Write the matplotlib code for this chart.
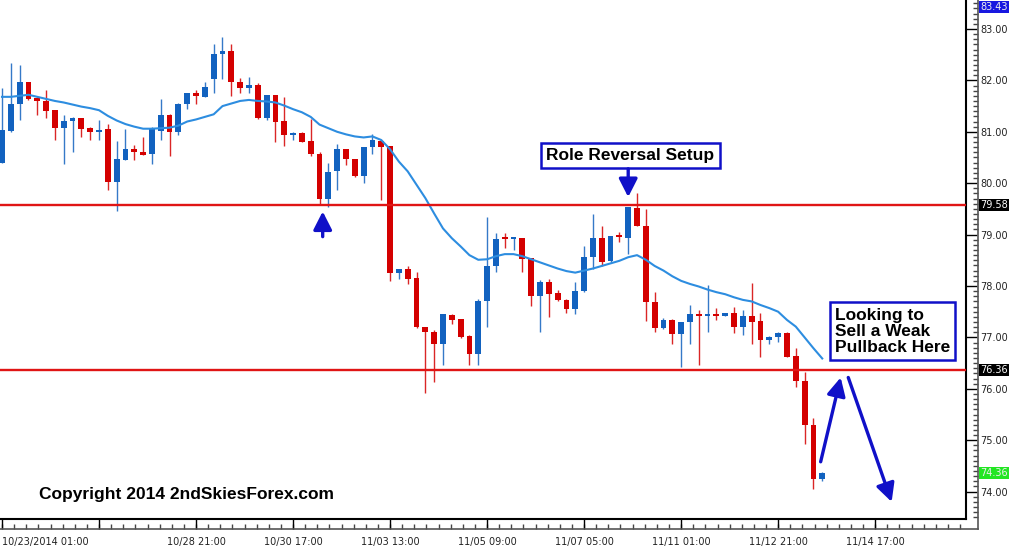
import numpy as np
import matplotlib
matplotlib.use('Agg')
import matplotlib.pyplot as plt
from matplotlib.lines import Line2D
from matplotlib.ticker import MultipleLocator, FormatStrFormatter

# 4H candles (bar index 0 = 10/23/2014 01:00)
opens = [80.39, 81.02, 81.54, 81.96, 81.65, 81.60, 81.42, 81.07, 81.21, 81.26,
         81.07, 81.00, 81.05, 80.03, 80.46, 80.67, 80.61, 80.56, 81.02, 81.33,
         81.00, 81.54, 81.75, 81.68, 82.03, 82.51, 82.58, 81.96, 81.86, 81.91,
         81.26, 81.72, 81.21, 80.94, 80.98, 80.82, 80.57, 79.69, 80.23, 80.66,
         80.47, 80.14, 80.71, 80.83, 80.72, 78.25, 78.33, 78.15, 77.21, 77.10,
         76.87, 77.44, 77.35, 77.03, 76.68, 77.70, 78.38, 78.94, 78.92, 78.93,
         78.54, 77.81, 78.07, 77.86, 77.73, 77.55, 77.91, 78.56, 78.93, 78.49,
         79.00, 78.93, 79.52, 79.17, 77.68, 77.18, 77.34, 77.06, 77.29, 77.45,
         77.42, 77.45, 77.42, 77.47, 77.21, 77.42, 77.31, 76.95, 77.00, 77.09,
         76.64, 76.16, 75.30, 74.24]
highs = [81.85, 82.34, 82.30, 81.97, 81.68, 81.81, 81.43, 81.33, 81.29, 81.27,
         81.10, 81.22, 81.15, 80.82, 81.05, 80.74, 80.89, 81.10, 81.64, 81.34,
         81.56, 81.76, 81.81, 81.97, 82.71, 82.85, 82.71, 82.04, 82.06, 81.94,
         81.72, 81.72, 81.68, 80.99, 80.99, 81.24, 80.61, 80.39, 80.76, 80.67,
         80.47, 80.71, 80.96, 80.84, 80.73, 78.34, 78.38, 78.28, 77.21, 77.14,
         77.45, 77.45, 77.36, 77.04, 77.74, 79.34, 79.04, 79.03, 78.94, 78.93,
         78.55, 78.12, 78.13, 77.92, 77.74, 78.07, 78.78, 79.40, 79.17, 78.98,
         79.06, 79.54, 79.80, 79.49, 77.88, 77.37, 77.35, 77.30, 77.63, 77.53,
         78.01, 77.57, 77.48, 77.60, 77.53, 78.05, 77.47, 77.02, 77.10, 77.10,
         76.79, 76.33, 75.44, 74.39]
lows = [80.39, 81.00, 81.22, 81.62, 81.33, 81.26, 80.85, 80.37, 80.61, 80.89,
        80.85, 80.84, 79.86, 79.46, 80.46, 80.46, 80.54, 80.37, 80.84, 80.53,
        80.94, 81.44, 81.55, 81.68, 81.76, 82.03, 81.70, 81.76, 81.75, 81.24,
        81.22, 80.81, 80.72, 80.85, 80.80, 80.53, 79.58, 79.53, 79.86, 80.36,
        80.13, 80.00, 80.57, 79.67, 78.09, 78.13, 78.04, 77.18, 75.91, 76.14,
        76.46, 77.26, 76.98, 76.46, 76.46, 77.21, 78.28, 78.73, 78.70, 78.28,
        77.61, 77.11, 77.40, 77.70, 77.48, 77.46, 77.89, 78.34, 78.38, 78.47,
        78.86, 78.62, 79.16, 77.31, 77.11, 77.16, 76.87, 76.43, 76.87, 76.46,
        77.11, 77.33, 77.41, 77.09, 77.05, 76.87, 76.62, 76.87, 76.92, 76.61,
        76.04, 74.93, 74.06, 74.21]
closes = [81.03, 81.55, 81.96, 81.64, 81.60, 81.41, 81.07, 81.21, 81.26, 81.05,
          81.00, 81.03, 80.03, 80.47, 80.67, 80.61, 80.55, 81.05, 81.33, 81.00,
          81.55, 81.75, 81.70, 81.88, 82.51, 82.58, 81.96, 81.85, 81.91, 81.26,
          81.72, 81.20, 80.94, 80.98, 80.81, 80.56, 79.69, 80.22, 80.66, 80.47,
          80.14, 80.70, 80.84, 80.71, 78.25, 78.33, 78.13, 77.21, 77.10, 76.87,
          77.45, 77.34, 77.00, 76.68, 77.70, 78.38, 78.91, 78.92, 78.94, 78.52,
          77.81, 78.07, 77.84, 77.72, 77.55, 77.91, 78.56, 78.93, 78.47, 78.97,
          78.95, 79.53, 79.17, 77.68, 77.18, 77.34, 77.06, 77.29, 77.45, 77.42,
          77.45, 77.42, 77.47, 77.20, 77.42, 77.29, 76.95, 77.01, 77.09, 76.62,
          76.16, 75.30, 74.24, 74.36]
# moving average line as drawn on the chart
ma = [81.68, 81.68, 81.70, 81.72, 81.68, 81.64, 81.60, 81.57, 81.53, 81.49,
      81.46, 81.42, 81.31, 81.22, 81.15, 81.10, 81.06, 81.06, 81.07, 81.08,
      81.12, 81.20, 81.24, 81.29, 81.34, 81.50, 81.55, 81.60, 81.62, 81.60,
      81.59, 81.57, 81.51, 81.44, 81.38, 81.29, 81.14, 81.07, 81.00, 80.95,
      80.91, 80.89, 80.91, 80.84, 80.66, 80.42, 80.23, 79.97, 79.71, 79.41,
      79.12, 78.93, 78.77, 78.60, 78.51, 78.52, 78.58, 78.62, 78.62, 78.58,
      78.52, 78.46, 78.40, 78.34, 78.29, 78.26, 78.30, 78.34, 78.39, 78.44,
      78.49, 78.56, 78.60, 78.51, 78.39, 78.30, 78.19, 78.10, 78.04, 77.99,
      77.93, 77.88, 77.84, 77.78, 77.73, 77.70, 77.63, 77.57, 77.50, 77.34,
      77.21, 77.00, 76.79, 76.59]

levels = [79.58, 76.36]
date_ticks = [0, 11, 22, 33, 44, 55, 66, 77, 88, 99]
date_labels = ['10/23/2014 01:00', '', '10/28 21:00', '10/30 17:00',
               '11/03 13:00', '11/05 09:00', '11/07 05:00', '11/11 01:00',
               '11/12 21:00', '11/14 17:00']
price_ticks = [74, 75, 76, 77, 78, 79, 80, 81, 82, 83]
marked_prices = [83.43, 79.58, 76.36, 74.36]
marked_colors = ['#1818e0', 'black', 'black', '#22e622']

RED = '#d40000'
BLUE = '#1262bf'
ARROW = '#1010c8'

fig = plt.figure(figsize=(10.24, 5.49), dpi=100)
ax = fig.add_axes([0, 30 / 549, 966 / 1024, 519 / 549])

x = np.arange(len(opens))
o = np.array(opens)
c = np.array(closes)
up = c >= o
cols = np.where(up, BLUE, RED)

ax.vlines(x, lows, highs, colors=cols, lw=1.0, alpha=0.85, zorder=2)
ax.bar(x, np.maximum(np.abs(c - o), 0.025), bottom=np.minimum(o, c),
       width=0.66, color=cols, linewidth=0, zorder=2)
ax.plot(x, ma, color='#2d8de0', lw=1.5, zorder=3)

for lv in levels:
    ax.axhline(lv, color='#e01515', lw=1.7, zorder=4)

ax.set_xlim(-0.227, 109.3)
ax.set_ylim(73.467, 83.564)

# frame: only right and bottom edges like the terminal chart
for s in ('top', 'left'):
    ax.spines[s].set_visible(False)
for s in ('right', 'bottom'):
    ax.spines[s].set_linewidth(1.5)

ax.set_xticks(date_ticks)
ax.set_xticklabels(date_labels)
ax.get_xticklabels()[0].set_horizontalalignment('left')
ax.tick_params(axis='x', direction='out', length=7.2, width=1, pad=5.5,
               labelsize=7, labelcolor='#222222')
ax.yaxis.tick_right()
ax.set_yticks(price_ticks)
ax.tick_params(axis='y', direction='out', length=8, width=1, labelright=False)

sx = ax.secondary_xaxis(-10 / 519)
sx.set_xticks([])
sx.xaxis.set_minor_locator(MultipleLocator(1.375))
sx.tick_params(which='minor', direction='in', length=3.5, width=1,
               color='#444444')
sx.spines['bottom'].set_visible(False)

sy = ax.secondary_yaxis(1 + 12 / 966)
sy.set_yticks(price_ticks)
sy.yaxis.set_major_formatter(FormatStrFormatter('%.2f'))
sy.yaxis.set_minor_locator(MultipleLocator(0.1))
sy.tick_params(which='major', length=0, pad=1.5, labelsize=7,
               labelcolor='#222222')
sy.tick_params(which='minor', direction='in', length=3.5, width=1,
               color='#444444')
sy.spines['right'].set_visible(False)

# outer border of the axis strips
fig.add_artist(Line2D([978 / 1024, 978 / 1024], [20 / 549, 1],
                      color='#555555', lw=1.2, transform=fig.transFigure))
fig.add_artist(Line2D([0, 978 / 1024], [20 / 549, 20 / 549],
                      color='#555555', lw=1.2, transform=fig.transFigure))

# highlighted price labels on the scale
for p, fc in zip(marked_prices, marked_colors):
    tc = '#eeeeee' if fc != 'black' else 'white'
    ax.annotate(f'{p:.2f}', xy=(1, p), xycoords=('axes fraction', 'data'),
                xytext=(10.2, 0), textcoords='offset points', va='center',
                ha='left', fontsize=7, color=tc, annotation_clip=False,
                bbox=dict(boxstyle='square,pad=0.12', fc=fc, ec='none'))

# annotations
bold = dict(family='Liberation Sans', fontweight='bold', fontsize=12.5,
            color='black')
box = dict(boxstyle='square,pad=0.3', fc='white', ec=ARROW, lw=1.8)
ax.text(71.26, 80.54, 'Role Reversal Setup', ha='center', va='center',
        bbox=box, zorder=6, **bold)
ax.text(94.44, 77.12, 'Looking to\nSell a Weak\nPullback Here', ha='left',
        va='center', linespacing=1.1, bbox=box, zorder=6, **bold)
ax.text(0.0404, 0.048, 'Copyright 2014 2ndSkiesForex.com',
        transform=ax.transAxes, ha='left', va='center', zorder=6, **bold)

arr = dict(arrowstyle='-|>,head_length=0.55,head_width=0.28', color=ARROW,
           lw=2.4, shrinkA=0, shrinkB=0, mutation_scale=20)
ax.annotate('', xy=(36.36, 79.45), xytext=(36.36, 78.96), arrowprops=arr,
            zorder=6)
ax.annotate('', xy=(71.0, 79.73), xytext=(71.0, 80.28), arrowprops=arr,
            zorder=6)
ax.annotate('', xy=(95.09, 76.22), xytext=(92.82, 74.58), arrowprops=arr,
            zorder=6)
ax.annotate('', xy=(100.87, 73.80), xytext=(95.95, 76.22), arrowprops=arr,
            zorder=6)

fig.savefig('out.png', dpi=100)
plt.close(fig)
